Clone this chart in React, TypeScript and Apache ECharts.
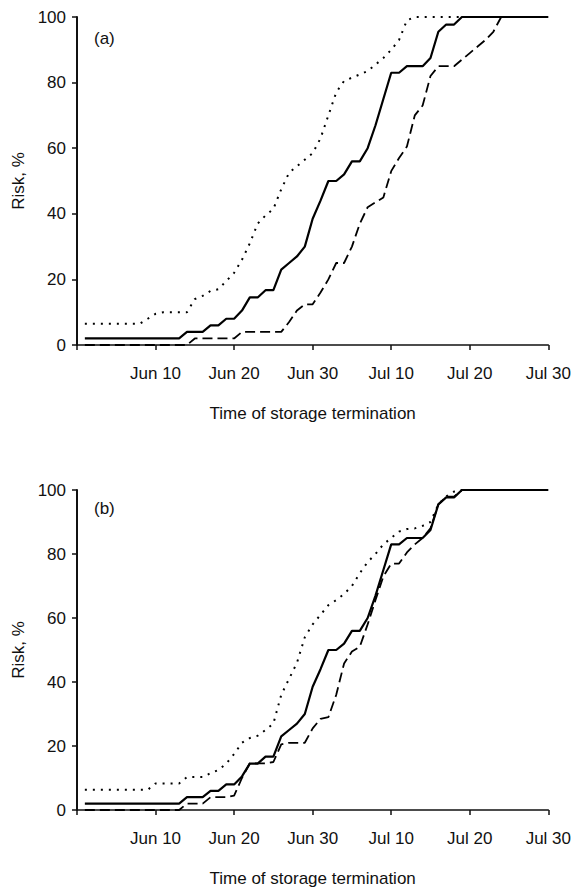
import React, { useEffect, useRef } from "react";
import * as echarts from "echarts";

// Days counted from May 31 (day 0); points are days 1..60
const xTickLabels: Record<number, string> = {
  0: "",
  10: "Jun 10",
  20: "Jun 20",
  30: "Jun 30",
  40: "Jul 10",
  50: "Jul 20",
  60: "Jul 30",
};
const yTicks = [0, 20, 40, 60, 80, 100];

// Solid line (same in both panels)
const solidRisk = [
  2, 2, 2, 2, 2, 2, 2, 2, 2, 2, 2, 2, 2,
  4, 4, 4, 6, 6, 8, 8, 10.5, 14.5, 14.5, 16.7, 16.7,
  23, 25, 27, 30, 38.5, 44, 50, 50, 52, 56, 56, 60, 67, 75, 83, 83, 85, 85, 85, 87.5, 95.5, 97.7, 97.7, 100,
  100, 100, 100, 100, 100, 100, 100, 100, 100, 100, 100,
];

// Panel (a)
const dottedRiskA = [
  6.5, 6.5, 6.5, 6.5, 6.5, 6.5, 6.5, 6.5, 8, 9.5, 10, 10, 10, 10,
  14, 15, 16.5, 17, 19.5, 22, 26, 31, 37, 39.5, 41.5, 47.5, 52.5, 54.5, 56.5, 58.5,
  63, 70, 77, 80.5, 81.5, 82.5, 83.5, 85.5, 87.5, 90, 93, 99, 100,
  100, 100, 100, 100, 100, 100, 100, 100, 100, 100, 100, 100, 100, 100, 100, 100, 100,
];
const dashedRiskA = [
  0, 0, 0, 0, 0, 0, 0, 0, 0, 0, 0, 0, 0, 0,
  2, 2, 2, 2, 2, 2, 4, 4, 4, 4, 4, 4,
  7, 10.5, 12.4, 12.4, 16, 20, 25, 25, 30, 37, 42, 43.5, 45, 53, 57, 60.5, 70, 73, 82, 85, 85, 85,
  87, 89, 91, 93, 95.5, 100,
  100, 100, 100, 100, 100, 100,
];

// Panel (b)
const dottedRiskB = [
  6.3, 6.3, 6.3, 6.3, 6.3, 6.3, 6.3, 6.3, 6.3,
  8.3, 8.3, 8.3, 8.3, 10.3, 10.3, 10.3,
  11.5, 12.5, 14.5, 17.5, 21, 22.5, 23.2, 25, 27, 36, 41, 46, 54, 58, 61, 64, 65.6,
  67.5, 70, 74, 77.5, 80, 83, 85, 87, 87.8, 88, 88.8, 90, 95.5, 98, 99.5, 100,
  100, 100, 100, 100, 100, 100, 100, 100, 100, 100, 100,
];
const dashedRiskB = [
  0, 0, 0, 0, 0, 0, 0, 0, 0, 0, 0, 0, 0,
  2, 2, 2, 4, 4, 4, 4.5, 10, 14.6, 14.6, 14.6, 15, 20.5, 21, 21, 21,
  25.5, 28.5, 29, 36, 45.8, 49.5, 51, 58, 65.6, 73, 77, 77, 80.5, 83, 85, 88, 95.5, 97.9, 97.9, 100,
  100, 100, 100, 100, 100, 100, 100, 100, 100, 100, 100,
];

const FONT = "'Liberation Sans', Arial, Helvetica, sans-serif";
const FS = 17;

const toPoints = (vals: number[]) => vals.map((v, i) => [i + 1, v]);

function makeXAxis(gridIndex: number) {
  return {
    type: "value",
    gridIndex,
    min: 0,
    max: 60,
    interval: 10,
    name: "Time of storage termination",
    nameLocation: "middle",
    nameGap: 60,
    nameTextStyle: { color: "#111", fontSize: FS, fontFamily: FONT },
    axisLine: { show: true, lineStyle: { color: "#111", width: 1.5 } },
    axisTick: { show: true, inside: false, length: 5, lineStyle: { color: "#111", width: 1.5 } },
    axisLabel: {
      color: "#111",
      fontSize: FS,
      fontFamily: FONT,
      margin: 20,
      formatter: (v: number) => xTickLabels[v] ?? "",
    },
    splitLine: { show: false },
  };
}

function makeYAxis(gridIndex: number) {
  return {
    type: "value",
    gridIndex,
    min: yTicks[0],
    max: yTicks[yTicks.length - 1],
    interval: 20,
    name: "Risk, %",
    nameLocation: "middle",
    nameRotate: 90,
    nameGap: 50,
    nameTextStyle: { color: "#111", fontSize: FS, fontFamily: FONT },
    axisLine: { show: true, lineStyle: { color: "#111", width: 2 } },
    axisTick: { show: true, inside: false, length: 5, lineStyle: { color: "#111", width: 1.5 } },
    axisLabel: { color: "#111", fontSize: FS, fontFamily: FONT, margin: 11 },
    splitLine: { show: false },
  };
}

function lineSeries(idx: number, vals: number[], kind: "solid" | "dashed" | "dotted") {
  const style: any = { color: "#000" };
  if (kind === "solid") {
    style.width = 2.2;
    style.type = "solid";
  } else if (kind === "dashed") {
    style.width = 1.8;
    style.type = [10, 5];
  } else {
    style.width = 2;
    style.type = [2, 6];
  }
  return {
    type: "line",
    xAxisIndex: idx,
    yAxisIndex: idx,
    data: toPoints(vals),
    symbol: "none",
    smooth: false,
    lineStyle: style,
    z: kind === "solid" ? 3 : 2,
  };
}

export default function App() {
  const ref = useRef<HTMLDivElement>(null);
  useEffect(() => {
    if (!ref.current) return;
    const chart = echarts.init(ref.current, undefined, { renderer: "svg" });
    chart.setOption({
      animation: false,
      backgroundColor: "#fff",
      grid: [
        { left: 77, right: 15, top: 17, height: 328 },
        { left: 77, right: 18, top: 490, height: 320 },
      ],
      xAxis: [makeXAxis(0), makeXAxis(1)],
      yAxis: [makeYAxis(0), makeYAxis(1)],
      graphic: [
        { type: "text", left: 94, top: 30, style: { text: "(a)", fontSize: FS, fontFamily: FONT, fill: "#111" } },
        { type: "text", left: 94, top: 500, style: { text: "(b)", fontSize: FS, fontFamily: FONT, fill: "#111" } },
      ],
      series: [
        lineSeries(0, dottedRiskA, "dotted"),
        lineSeries(0, dashedRiskA, "dashed"),
        lineSeries(0, solidRisk, "solid"),
        lineSeries(1, dottedRiskB, "dotted"),
        lineSeries(1, dashedRiskB, "dashed"),
        lineSeries(1, solidRisk, "solid"),
      ],
    });
    return () => chart.dispose();
  }, []);
  return (
    <div
      ref={ref}
      style={{ position: "fixed", left: 0, top: 0, width: 574, height: 890, background: "#fff" }}
    />
  );
}
